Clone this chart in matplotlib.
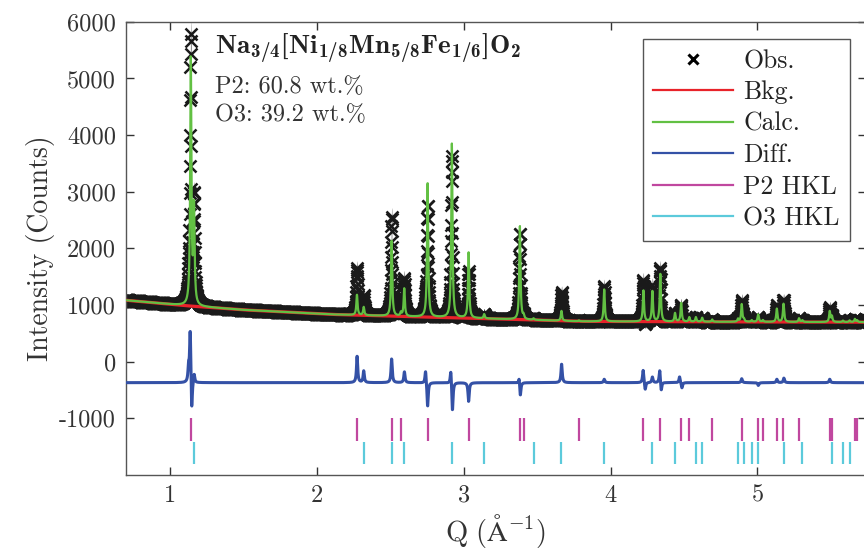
import numpy as np
import matplotlib
matplotlib.use("Agg")
import matplotlib.pyplot as plt
from matplotlib.lines import Line2D

plt.rcParams['font.family'] = ['cmr10', 'DejaVu Serif']
plt.rcParams['mathtext.fontset'] = 'custom'
plt.rcParams['mathtext.rm'] = 'cmr10'
plt.rcParams['mathtext.bf'] = 'cmb10'
plt.rcParams['mathtext.it'] = 'cmmi10'
plt.rcParams['mathtext.fallback'] = 'cm'
plt.rcParams['axes.unicode_minus'] = False

# Reflection positions (Q, 1/Å) and calculated peak intensities above background
p2_hkl_q = [1.143, 2.274, 2.510, 2.573, 2.755, 3.034, 3.383, 3.408, 3.785, 4.224,
            4.339, 4.481, 4.536, 4.692, 4.893, 5.006, 5.037, 5.132, 5.177, 5.283,
            5.492, 5.507, 5.663, 5.679]
p2_calc_int = [4340, 360, 1000, 60, 2395, 1155, 1650, 60, 15, 550,
               850, 330, 80, 40, 310, 100, 30, 235, 250, 65,
               190, 60, 55, 30]
o3_hkl_q = [1.165, 2.320, 2.510, 2.596, 2.920, 3.140, 3.476, 3.666, 3.957, 4.285,
            4.439, 4.581, 4.624, 4.868, 4.908, 4.961, 5.003, 5.179, 5.306, 5.507,
            5.582, 5.627]
o3_calc_int = [1700, 145, 336, 490, 3070, 75, 25, 175, 565, 540,
               150, 80, 70, 50, 40, 30, 40, 80, 30, 40,
               25, 30]

# Background knots
bkg_q = [0.70, 1.10, 1.50, 2.10, 2.60, 3.00, 3.80, 4.50, 5.74]
bkg_val = [1085, 990, 915, 835, 797, 772, 712, 705, 698]

# Residual (obs - calc) features at reflections
res_q = [1.128, 1.139, 1.149, 1.166, 2.275, 2.320, 2.510, 2.597, 2.741, 2.755,
         2.913, 2.924, 3.034, 3.378, 3.386, 3.667, 3.957, 4.222, 4.236, 4.285,
         4.335, 4.345, 4.470, 4.486, 4.893, 5.006, 5.132, 5.180, 5.492]
res_amp = [260, 980, -620, 160, 470, 205, 420, 190, 240, -440,
           265, -525, -330, 120, -250, 330, 60, 230, -140, 100,
           240, -170, 110, -100, 70, -50, 60, 80, 60]

diff_offset = -370
hwhm = 0.0048

q = np.arange(0.70, 5.74, 0.0012)


def lorentz(x, centres, amps, g):
    out = np.zeros_like(x)
    for c, a in zip(centres, amps):
        out += a / (1.0 + ((x - c) / g) ** 2)
    return out


bkg = np.interp(q, bkg_q, bkg_val)
calc = bkg + lorentz(q, p2_hkl_q, p2_calc_int, hwhm) + lorentz(q, o3_hkl_q, o3_calc_int, hwhm)
resid = lorentz(q, res_q, res_amp, hwhm)
obs = calc + resid
diff = diff_offset + resid
sigma = np.sqrt(obs)

fig = plt.figure(figsize=(8.64, 5.52), dpi=100)
ax = fig.add_axes([0.1455, 0.1395, 0.857, 0.8210])

c_bkg = '#e8232a'
c_calc = '#62c043'
c_diff = '#3451a6'
c_p2 = '#c0479f'
c_o3 = '#5ccadb'
c_txt = '#333333'

ax.fill_between(q, obs - 3.4 * sigma, obs + 3.4 * sigma, color='#1a1a1a', lw=0, zorder=2)
ax.plot(q, obs, ls='none', marker='x', ms=8.5, mew=1.8, color='#1a1a1a', zorder=2)
ax.plot(q, bkg, color=c_bkg, lw=2.3, zorder=3)
ax.plot(q, calc, color=c_calc, lw=1.6, zorder=4)
ax.plot(q, diff, color=c_diff, lw=2.2, zorder=3)
ax.vlines(p2_hkl_q, -1000, -1400, color=c_p2, lw=1.6, zorder=3)
ax.vlines(o3_hkl_q, -1410, -1800, color=c_o3, lw=1.6, zorder=3)

ax.set_xlim(0.70, 5.74)
ax.set_ylim(-2000, 6000)
xt = [1, 2, 3, 4, 5]
yt = [-1000, 0, 1000, 2000, 3000, 4000, 5000, 6000]
ax.set_xticks(xt)
ax.set_xticklabels([str(v) for v in xt])
ax.set_yticks(yt)
ax.set_yticklabels([str(v) for v in yt])
ax.tick_params(direction='in', length=6, width=1.0, color='#333333', labelsize=17.5,
               top=True, right=True, labelcolor=c_txt, pad=7)
for s in ax.spines.values():
    s.set_color('#555555')
    s.set_linewidth(1.0)

ax.set_xlabel(r'$\mathrm{Q\ (\AA^{-1})}$', fontsize=20.5, color=c_txt, labelpad=4)
ax.set_ylabel('Intensity (Counts)', fontsize=20, color=c_txt, labelpad=3)

ax.text(0.121, 0.943,
        r'$\mathbf{Na_{3/4}[Ni_{1/8}Mn_{5/8}Fe_{1/6}]O_{2}}$',
        transform=ax.transAxes, fontsize=19.5, va='center', ha='left', color='#222222')
ax.text(0.121, 0.857, 'P2: 60.8 wt.%', transform=ax.transAxes, fontsize=17.5,
        va='center', ha='left', color=c_txt)
ax.text(0.121, 0.795, 'O3: 39.2 wt.%', transform=ax.transAxes, fontsize=17.5,
        va='center', ha='left', color=c_txt)

handles = [
    Line2D([], [], ls='none', marker='x', ms=7, mew=2.2, color='black'),
    Line2D([], [], color=c_bkg, lw=1.6),
    Line2D([], [], color=c_calc, lw=1.6),
    Line2D([], [], color=c_diff, lw=1.6),
    Line2D([], [], color=c_p2, lw=1.6),
    Line2D([], [], color=c_o3, lw=1.6),
]
labels = ['Obs.', 'Bkg.', 'Calc.', 'Diff.', 'P2 HKL', 'O3 HKL']
leg = ax.legend(handles, labels, loc='upper right', bbox_to_anchor=(0.978, 0.962),
                borderaxespad=0, fontsize=18.5, fancybox=False, framealpha=1,
                edgecolor='#555555', handlelength=3.1, handletextpad=0.4,
                labelspacing=0.3, borderpad=0.4)
leg.get_frame().set_linewidth(1.0)
for t in leg.get_texts():
    t.set_color('#222222')

fig.savefig('out.png', dpi=100)
